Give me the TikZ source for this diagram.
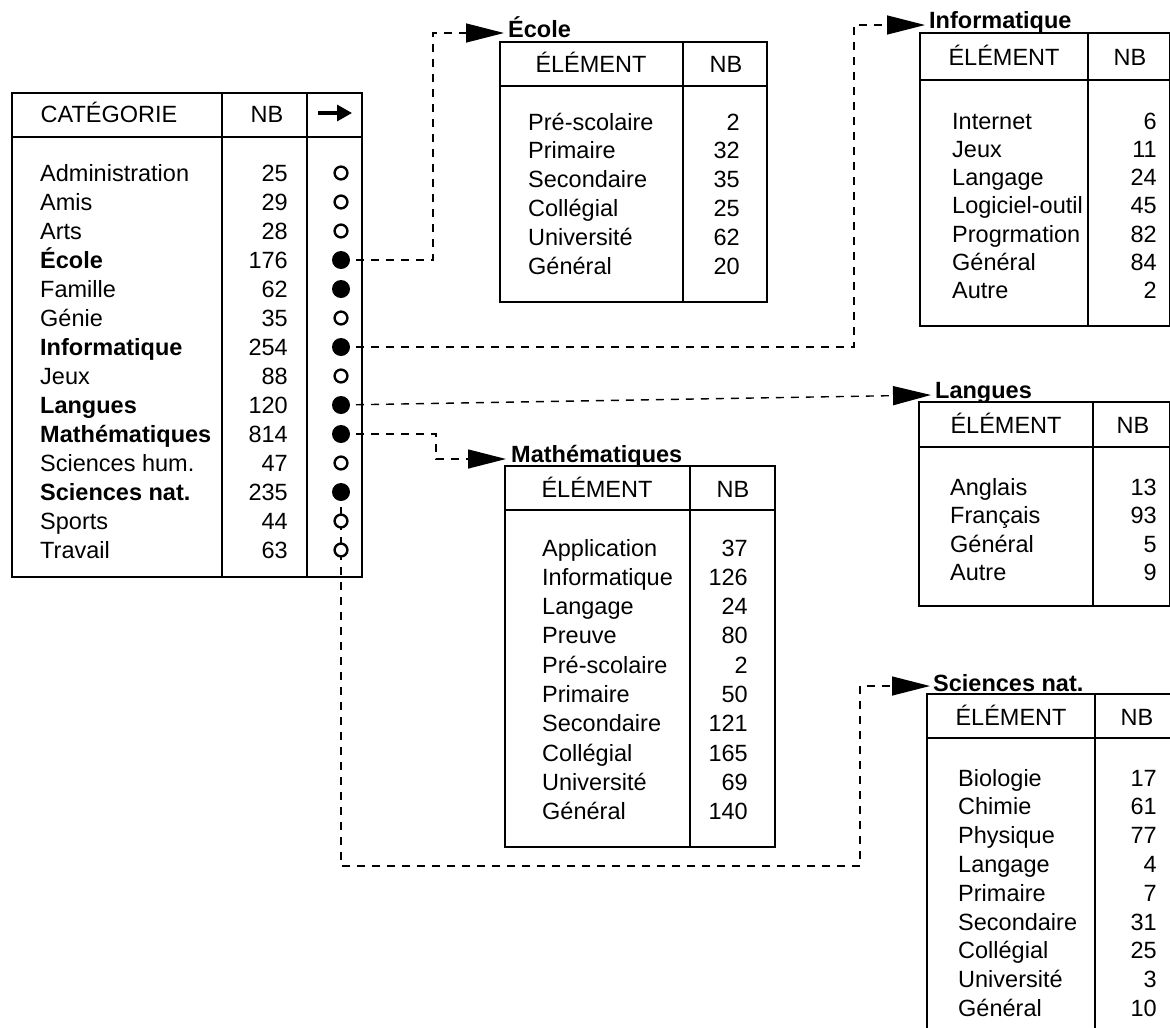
\documentclass[tikz,border=0pt]{standalone}
\usepackage{fontspec}
\setmainfont{Liberation Sans}
\usetikzlibrary{arrows.meta}

% frame of a two-column table: left, divider, right, top, header rule, bottom
\newcommand\gridbox[6]{%
  \draw[tframe] (#1,#4) rectangle (#3,#6);
  \draw[tframe] (#1,#5) -- (#3,#5);
  \draw[trule] (#2,#4) -- (#2,#6);}

% body rows: name x, number x (right edge), first baseline, step, prefix, list
\newcommand\fillrows[6]{%
  \foreach \nm/\nb [count=\k from 0] in {#6} {%
    \node[cname] (#5n\k) at (#1,{#3+#4*\k}) {\nm};
    \node[cnum]  (#5v\k) at (#2,{#3+#4*\k}) {\nb};}}

\begin{document}
\begin{tikzpicture}[x=1pt,y=-1pt,
  tframe/.style={line width=2.9pt},
  trule/.style={line width=2pt},
  cell/.style={inner sep=0pt, font=\fontsize{23.5}{28}\selectfont},
  cname/.style={cell, anchor=base west},
  cnum/.style={cell, anchor=base east},
  chead/.style={cell, anchor=base},
  ctitle/.style={inner sep=0pt, anchor=base west, font=\fontsize{23.5}{28}\selectfont\bfseries},
  markopen/.style={circle, draw, fill=white, line width=2.4pt, minimum size=12.8pt, inner sep=0pt},
  markfull/.style={circle, fill=black, minimum size=18pt, inner sep=0pt},
  link/.style={dash pattern=on 8pt off 7pt, line width=1.4pt},
  tipped/.style={-{Triangle[length=38pt,width=19pt]}},
]
\useasboundingbox (0,0) rectangle (1170,1028);

% ---------- category table ----------
\draw[tframe] (12,93) rectangle (362,577);
\draw[tframe] (12,137) -- (362,137);
\draw[trule] (222,93) -- (222,577);
\draw[trule] (307,93) -- (307,577);
\node[chead] (hcat) at (109,122) {CATÉGORIE};
\node[chead] (hnb)  at (267,122) {NB};
\draw[line width=3.2pt,-{Triangle[length=15pt,width=16pt]}] (318,113) -- (352,113);

\fillrows{40}{288}{181}{29}{cat}{Administration/25, Amis/29, Arts/28,
  \textbf{École}/176, Famille/62, Génie/35, \textbf{Informatique}/254,
  Jeux/88, \textbf{Langues}/120, \textbf{Mathématiques}/814,
  Sciences hum./47, \textbf{Sciences nat.}/235, Sports/44, Travail/63}

\foreach \k in {0,...,13} {\coordinate (c\k) at (341,{173+29*\k});}

% ---------- École ----------
\gridbox{500}{683}{767}{42}{86}{302}
\node[chead] (eh1) at (591,72) {ÉLÉMENT};
\node[chead] (eh2) at (726,72) {NB};
\fillrows{528}{740}{130}{28.8}{ec}{Pré-scolaire/2, Primaire/32, Secondaire/35,
  Collégial/25, Université/62, Général/20}
\node[ctitle] (tecole) at (508,37) {École};
\coordinate (ecoleTip) at (504,33);

% ---------- Informatique ----------
\gridbox{920}{1088}{1170}{33}{80}{326}
\node[chead] (ih1) at (1004,65) {ÉLÉMENT};
\node[chead] (ih2) at (1130,65) {NB};
\fillrows{952}{1157}{129}{28.3}{in}{Internet/6, Jeux/11, Langage/24,
  Logiciel-outil/45, Progrmation/82, Général/84, Autre/2}
\node[ctitle] (tinfo) at (929,28) {Informatique};
\coordinate (infoTip) at (925,25);

% ---------- Langues ----------
\gridbox{919}{1093}{1170}{402}{447}{606}
\node[chead] (lh1) at (1006,433) {ÉLÉMENT};
\node[chead] (lh2) at (1133,433) {NB};
\fillrows{950}{1157}{495}{28.5}{la}{Anglais/13, Français/93, Général/5, Autre/9}
\node[ctitle] (tlang) at (935,398) {Langues};
\coordinate (langTip) at (931,395);

% ---------- Mathématiques ----------
\gridbox{505}{690}{775}{466}{510}{847}
\node[chead] (mh1) at (597,497) {ÉLÉMENT};
\node[chead] (mh2) at (733,497) {NB};
\fillrows{542}{748}{556}{29.3}{ma}{Application/37, Informatique/126, Langage/24,
  Preuve/80, Pré-scolaire/2, Primaire/50, Secondaire/121, Collégial/165,
  Université/69, Général/140}
\node[ctitle] (tmath) at (511,462) {Mathématiques};
\coordinate (mathTip) at (506,459);

% ---------- Sciences nat. ----------
\gridbox{927}{1095}{1180}{694}{738}{1040}
\node[chead] (sh1) at (1011,725) {ÉLÉMENT};
\node[chead] (sh2) at (1137,725) {NB};
\fillrows{958}{1157}{786}{28.8}{sn}{Biologie/17, Chimie/61, Physique/77, Langage/4,
  Primaire/7, Secondaire/31, Collégial/25, Université/3, Général/10}
\node[ctitle] (tsci) at (933,691) {Sciences nat.};
\coordinate (sciTip) at (930,686);

% ---------- links from the category marks ----------
\draw[link,tipped] (c3) -- ++(92,0) |- (ecoleTip);
\draw[link,tipped] (c6) -- ++(513,0) |- (infoTip);
\draw[link,tipped] (c8) -- (langTip);
\draw[link,tipped] (c9) -- ++(95,0) |- (mathTip);
\draw[link,tipped] (c11) |- (860,866) |- (sciTip);

% ---------- marks ----------
\foreach \kind [count=\k from 0] in {markopen,markopen,markopen,markfull,markfull,markopen,markfull,markopen,markfull,markfull,markopen,markfull,markopen,markopen}
  {\node[\kind] (dot\k) at (c\k) {};}
\end{tikzpicture}
\end{document}
